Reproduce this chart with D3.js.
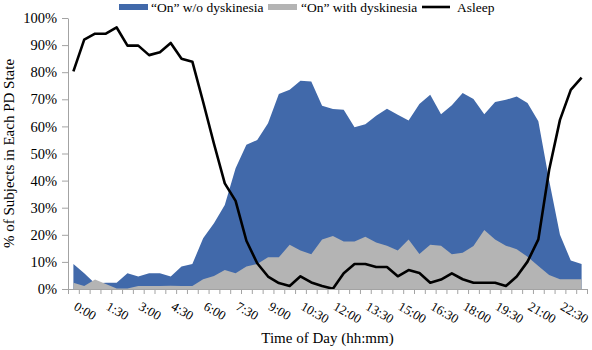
<!DOCTYPE html>
<html>
<head>
<meta charset="utf-8">
<script src="https://cdn.jsdelivr.net/npm/d3@7/dist/d3.min.js"></script>
<style>
  html, body { margin: 0; padding: 0; background: #fff; }
  svg text { font-family: "Times New Roman", "Liberation Serif", Tinos, "DejaVu Serif", serif; }
</style>
</head>
<body>
<svg id="chart" width="592" height="350"></svg>
<script>
// Half-hour slots across the day
const times = d3.range(48).map(i => `${Math.floor(i / 2)}:${i % 2 ? "30" : "00"}`);

// Labels shown under the axis (every 90 minutes)
const tickLabels = ["0:00", "1:30", "3:00", "4:30", "6:00", "7:30", "9:00", "10:30",
                    "12:00", "13:30", "15:00", "16:30", "18:00", "19:30", "21:00", "22:30"];

// % of subjects "On" without dyskinesia
const onWithout = [9.2, 5.8, 2.0, 2.3, 2.3, 5.8, 4.6, 5.8, 5.8, 4.6, 8.3, 9.2,
                   18.7, 24.3, 31.0, 44.6, 53.2, 55.0, 61.2, 72.0, 73.5, 76.8, 76.6, 67.6,
                   66.4, 66.1, 59.7, 60.8, 63.9, 66.5, 64.3, 62.2, 68.3, 71.7, 64.5, 67.8,
                   72.3, 70.1, 64.5, 69.0, 69.8, 71.0, 68.6, 61.9, 40.0, 20.0, 10.5, 9.2];

// % of subjects "On" with dyskinesia
const onWith = [2.3, 1.1, 3.5, 1.8, 0.2, 0.2, 1.1, 1.1, 1.1, 1.2, 1.1, 1.1,
                3.6, 4.8, 7.0, 5.8, 8.3, 9.2, 11.7, 11.7, 16.3, 14.2, 12.8, 18.3,
                19.6, 17.5, 17.5, 19.3, 17.2, 16.0, 14.2, 18.3, 12.9, 16.3, 16.0, 12.8,
                13.4, 15.9, 21.8, 18.3, 16.0, 14.7, 11.9, 8.5, 5.2, 3.6, 3.6, 3.6];

// % of subjects asleep
const asleep = [80.3, 92.0, 94.2, 94.2, 96.5, 89.8, 89.8, 86.3, 87.4, 90.8, 85.0, 83.9,
                69.0, 53.6, 39.0, 32.5, 17.8, 9.5, 4.6, 2.2, 1.1, 4.7, 2.4, 1.1,
                0.1, 5.8, 9.2, 9.2, 8.1, 8.1, 4.7, 7.0, 5.9, 2.3, 3.5, 5.8,
                3.6, 2.3, 2.3, 2.3, 1.1, 4.6, 10.1, 18.3, 44.0, 62.4, 73.5, 78.0];

const yTicks = [0, 10, 20, 30, 40, 50, 60, 70, 80, 90, 100];

const FONT = "'Times New Roman', 'Liberation Serif', Tinos, 'DejaVu Serif', serif";
const svg = d3.select("#chart");
const plotL = 68, plotR = 587, plotT = 18, plotB = 289;
const axisColor = "#a3a3a3";
const blue = "#4169aa", gray = "#b4b4b4";

const x = d3.scaleBand().domain(times).range([plotL, plotR]).padding(0);
const cx = t => x(t) + x.bandwidth() / 2;
const y = d3.scaleLinear().domain([0, 100]).range([plotB, plotT]);

const area = vals => d3.area()
  .x((d, i) => cx(times[i]))
  .y0(y(0))
  .y1(d => y(d))(vals);

svg.append("path").attr("d", area(onWithout)).attr("fill", blue);
svg.append("path").attr("d", area(onWith)).attr("fill", gray);

svg.append("path")
  .attr("d", d3.line().x((d, i) => cx(times[i])).y(d => y(d))(asleep))
  .attr("fill", "none").attr("stroke", "#000").attr("stroke-width", 2.6)
  .attr("stroke-linejoin", "round");

// Y axis
const yAxis = svg.append("g").attr("transform", `translate(${plotL},0)`)
  .call(d3.axisLeft(y).tickValues(yTicks).tickFormat(d => d + "%").tickSize(6).tickSizeOuter(0).tickPadding(5));
yAxis.attr("font-family", FONT).attr("font-size", 14.5);
yAxis.selectAll("path, line").attr("stroke", axisColor);
yAxis.selectAll("text").attr("fill", "#000");

// X axis: tick marks on the slot boundaries
const xEdge = d3.scaleLinear().domain([0, times.length]).range([plotL, plotR]);
const xAxis = svg.append("g").attr("transform", `translate(0,${plotB})`)
  .call(d3.axisBottom(xEdge).tickValues(d3.range(times.length + 1)).tickFormat("").tickSize(5).tickSizeOuter(0));
xAxis.selectAll("path, line").attr("stroke", axisColor);

// Slanted time labels
svg.append("g").attr("font-family", FONT).selectAll("text").data(tickLabels).join("text")
  .attr("transform", d => `translate(${cx(d) - 0.5},${plotB + 20}) rotate(30)`)
  .attr("font-size", 13).attr("fill", "#000")
  .text(d => d);

// Axis titles
svg.append("text")
  .attr("transform", `translate(14,${(plotT + plotB) / 2}) rotate(-90)`)
  .attr("text-anchor", "middle").attr("font-size", 15).attr("font-family", FONT)
  .text("% of Subjects in Each PD State");

svg.append("text")
  .attr("x", (plotL + plotR) / 2).attr("y", 343)
  .attr("text-anchor", "middle").attr("font-size", 15).attr("font-family", FONT)
  .text("Time of Day (hh:mm)");

// Legend
const legend = svg.append("g").attr("font-size", 13.5).attr("font-family", FONT);
legend.append("rect").attr("x", 119).attr("y", 4).attr("width", 29).attr("height", 6).attr("fill", blue);
legend.append("text").attr("x", 151).attr("y", 12).text("\u201COn\u201D w/o dyskinesia");
legend.append("rect").attr("x", 268).attr("y", 4).attr("width", 29).attr("height", 6).attr("fill", gray);
legend.append("text").attr("x", 301).attr("y", 12).text("\u201COn\u201D with dyskinesia");
legend.append("line").attr("x1", 422).attr("x2", 450).attr("y1", 7).attr("y2", 7)
  .attr("stroke", "#000").attr("stroke-width", 2.6);
legend.append("text").attr("x", 457).attr("y", 12).text("Asleep");
</script>
</body>
</html>
